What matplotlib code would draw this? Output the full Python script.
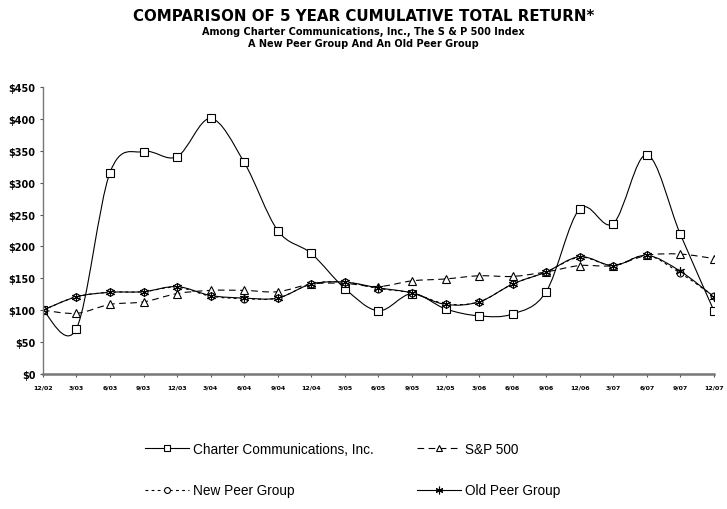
import matplotlib
matplotlib.use('Agg')
import matplotlib.pyplot as plt
from matplotlib.path import Path
from matplotlib.patches import PathPatch
from matplotlib.lines import Line2D

quarters = ['12/02', '3/03', '6/03', '9/03', '12/03', '3/04', '6/04', '9/04',
            '12/04', '3/05', '6/05', '9/05', '12/05', '3/06', '6/06', '9/06',
            '12/06', '3/07', '6/07', '9/07', '12/07']

charter = [100, 71, 316, 349, 341, 401, 332, 225, 189, 134, 99, 126,
           102, 91, 94, 129, 259, 236, 344, 219, 99]
sp500 = [100, 95, 109, 113, 126, 131, 131, 129, 141, 142, 137, 146,
         149, 154, 153, 160, 170, 170, 186, 188, 181]
new_peer = [100, 121, 128, 129, 136, 122, 118, 119, 141, 144, 134, 127,
            110, 113, 141, 160, 183, 170, 186, 158, 122]
old_peer = [100, 121, 128, 129, 137, 123, 119, 119, 141, 144, 135, 127,
            109, 113, 141, 160, 184, 170, 186, 161, 121]

y_ticks = [0, 50, 100, 150, 200, 250, 300, 350, 400, 450]


def smooth_path(xs, ys):
    # excel style smoothed line: cubic bezier through every point
    n = len(xs)
    verts = [(xs[0], ys[0])]
    codes = [Path.MOVETO]
    for i in range(n - 1):
        a = max(i - 1, 0)
        b = min(i + 2, n - 1)
        c1 = (xs[i] + (xs[i + 1] - xs[a]) / 6, ys[i] + (ys[i + 1] - ys[a]) / 6)
        c2 = (xs[i + 1] - (xs[b] - xs[i]) / 6, ys[i + 1] - (ys[b] - ys[i]) / 6)
        verts += [c1, c2, (xs[i + 1], ys[i + 1])]
        codes += [Path.CURVE4] * 3
    return Path(verts, codes)


fig = plt.figure(figsize=(7.27, 5.10), dpi=100)
ax = fig.add_axes([0.059, 0.265, 0.923, 0.562])

x = list(range(len(quarters)))
series = [
    (charter, '-', 's', 5.8, 'Charter Communications, Inc.'),
    (sp500, (0, (6, 4)), '^', 5.5, 'S&P 500'),
    (new_peer, (0, (2.5, 3)), 'o', 5, 'New Peer Group'),
    (old_peer, '-', (6, 2, 0), 6.5, 'Old Peer Group'),
]

handles = {}
for vals, ls, mk, ms, name in series:
    ax.add_patch(PathPatch(smooth_path(x, vals), fill=False, edgecolor='black',
                           lw=0.8, linestyle=ls))
    ax.plot(x, vals, linestyle='none', marker=mk, ms=ms, mfc='white',
            mec='black', mew=0.8)
    handles[name] = Line2D([], [], color='black', lw=0.8, linestyle=ls,
                           marker=mk, ms=ms * 0.85, mfc='white', mec='black',
                           mew=0.8)

ax.set_xlim(0, 20)
ax.set_ylim(0, 450)
ax.set_xticks(x)
ax.set_xticklabels(quarters, fontsize=4.5, fontweight='bold')
ax.set_yticks(y_ticks)
ax.set_yticklabels(['$%d' % v for v in y_ticks], fontsize=7, fontweight='heavy')
ax.tick_params(axis='both', length=2.5, width=0.8, color='#555555', pad=3)
ax.tick_params(axis='x', pad=5)

for s in ['top', 'right']:
    ax.spines[s].set_visible(False)
ax.spines['left'].set_color('#777777')
ax.spines['left'].set_linewidth(1.0)
ax.spines['bottom'].set_color('#777777')
ax.spines['bottom'].set_linewidth(1.8)

fig.text(0.5, 0.967, 'COMPARISON OF 5 YEAR CUMULATIVE TOTAL RETURN*',
         ha='center', va='center', fontsize=10.8, fontweight='heavy')
fig.text(0.5, 0.937, 'Among Charter Communications, Inc., The S & P 500 Index',
         ha='center', va='center', fontsize=7, fontweight='bold')
fig.text(0.5, 0.913, 'A New Peer Group And An Old Peer Group',
         ha='center', va='center', fontsize=7, fontweight='bold')

order = ['Charter Communications, Inc.', 'New Peer Group', 'S&P 500', 'Old Peer Group']
fig.legend([handles[k] for k in order], order, loc='center',
           bbox_to_anchor=(0.485, 0.077), ncol=2, frameon=False,
           handlelength=3.2, handletextpad=0.3, columnspacing=3.2,
           labelspacing=2.0, prop={'family': 'Liberation Sans', 'size': 9.8})

fig.savefig('out.png', dpi=100)
